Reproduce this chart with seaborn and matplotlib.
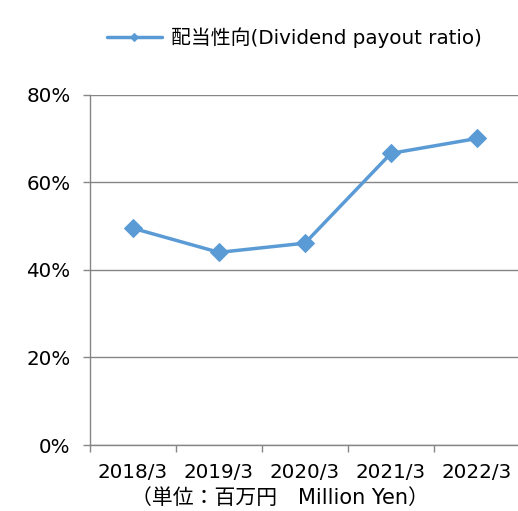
import matplotlib
matplotlib.use("Agg")
import matplotlib.pyplot as plt
import seaborn as sns
import pandas as pd
import numpy as np
from matplotlib.ticker import FixedLocator, PercentFormatter

years = ["2018/3", "2019/3", "2020/3", "2021/3", "2022/3"]
payout = [49.5, 44.0, 46.1, 66.6, 70.0]
yticks = [0, 20, 40, 60, 80]
series_name = "配当性向(Dividend payout ratio)"
unit_label = "（単位：百万円\u3000Million Yen）"

sns.set_theme(style="white")
plt.rcParams['font.family'] = ['DejaVu Sans', 'Noto Sans CJK JP']

df = pd.DataFrame({"year": years, "value": payout})

fig = plt.figure(figsize=(5.18, 5.11), dpi=100)
ax = fig.add_axes([0.1737, 0.129, 0.83, 0.6857])
color = "#5B9BD5"
sns.lineplot(data=df, x="year", y="value", ax=ax, color=color, linewidth=2.5,
             marker="D", markersize=9.5, markeredgecolor=color, label=series_name,
             sort=False)

ax.set_xlim(-0.5, 4.5)
ax.set_ylim(0, 80)
ax.set_yticks(yticks)
ax.yaxis.set_major_formatter(PercentFormatter(decimals=0))
ax.grid(axis="y", color="#868686", linewidth=1)
ax.set_axisbelow(True)
for s in ["top", "right"]:
    ax.spines[s].set_visible(False)
for s in ["left", "bottom"]:
    ax.spines[s].set_color("#868686")
    ax.spines[s].set_linewidth(1)
ax.set_xticks(range(len(years)))
ax.set_xticklabels(years)
ax.xaxis.set_minor_locator(FixedLocator(np.arange(-0.5, 5, 1.0)))
ax.tick_params(axis="x", which="major", length=0, pad=13, labelsize=14.3, colors="black")
ax.tick_params(axis="x", which="minor", length=5, color="#868686", width=1, bottom=True)
ax.tick_params(axis="y", length=5, color="#868686", width=1, left=True, labelsize=14.3, colors="black", pad=9)
ax.set_xlabel("")
ax.set_ylabel("")

leg = ax.legend(loc="center", bbox_to_anchor=(0.568, 0.926), bbox_transform=fig.transFigure,
                frameon=False, fontsize=14.3, handlelength=2.8, handletextpad=0.45, markerscale=0.45)
for t in leg.get_texts():
    t.set_color("black")

fig.text(0.54, 0.026, unit_label, ha="center", va="center", fontsize=15, color="black")

fig.savefig("out.png", dpi=100)
